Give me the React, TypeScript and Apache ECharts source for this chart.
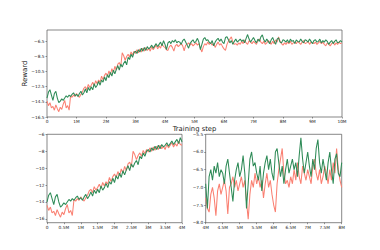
import React, { useEffect, useRef } from "react";
import * as echarts from "echarts";

// Training step spacing (in millions of steps) between recorded points
const stepM = 0.05;

// Reward curves, one value every 0.05M steps, 0 .. 10M
const greenReward = [
  -14.0, -13.2, -12.9, -13.6, -14.3, -13.4, -13.1, -14.0, -14.6, -14.4, -14.1,
  -14.3, -14.0, -13.7, -13.9, -13.6, -13.8, -13.5, -13.3, -13.7, -13.5,
  -13.8, -13.4, -13.1, -13.6, -13.3, -12.8, -13.3, -12.6, -13.0, -12.5,
  -12.9, -12.1, -12.6, -12.3, -11.8, -12.3, -11.6, -11.9, -11.2, -11.7,
  -10.9, -11.3, -10.6, -11.1, -10.3, -10.8, -10.2, -9.7, -10.3, -9.5,
  -9.9, -9.4, -9.1, -9.6, -8.6, -8.9, -8.2, -8.6, -8.0, -7.8,
  -8.1, -7.6, -7.9, -7.4, -7.8, -7.3, -7.7, -7.2, -7.5, -7.3,
  -7.0, -7.4, -7.1, -6.8, -7.2, -6.9, -6.6, -7.1, -6.4, -6.9,
  -7.6, -6.7, -6.5, -6.8, -6.4, -6.6, -6.3, -6.7, -6.5, -6.6,
  -6.9, -6.4, -6.2, -6.6, -7.0, -7.4, -6.8, -6.5, -6.3, -6.7,
  -6.5, -6.1, -6.6, -7.6, -6.9, -6.2, -6.0, -6.4, -6.3, -6.6,
  -6.8, -6.4, -7.1, -6.6, -6.3, -6.1, -6.5, -6.2, -6.6, -6.8,
  -6.0, -5.9, -6.3, -6.7, -6.4, -6.9, -6.5, -6.2, -6.6, -6.4,
  -6.2, -6.5, -6.3, -6.7, -6.1, -5.6, -6.2, -6.6, -6.3, -6.0,
  -6.4, -6.7, -6.2, -6.5, -5.9, -5.65, -6.3, -6.6, -6.2, -6.5,
  -6.8, -6.3, -6.0, -6.5, -6.9, -6.2, -6.05, -6.6, -6.7, -6.3,
  -6.4, -6.6, -6.3, -6.7, -6.2, -6.5, -6.4, -6.8, -6.3, -6.5,
  -6.6, -6.2, -6.5, -6.7, -6.3, -6.4, -6.6, -6.2, -6.5, -6.8,
  -6.4, -6.3, -6.6, -6.5, -6.2, -6.7, -6.4, -6.6, -6.3, -6.5,
  -6.9, -6.6, -6.4, -6.8, -6.5, -6.3, -6.7, -6.6, -6.4, -6.6,
];

const redReward = [
  -14.4, -15.0, -14.6, -15.3, -15.1, -15.6, -14.9, -15.4, -15.8, -15.2, -15.5,
  -14.8, -14.3, -15.3, -15.0, -15.6, -13.7, -13.9, -13.6, -13.8, -13.4,
  -13.7, -13.9, -13.5, -13.2, -12.7, -12.5, -12.9, -12.2, -12.6, -12.3,
  -11.9, -12.4, -11.7, -12.1, -11.6, -11.9, -11.1, -11.6, -11.0, -10.7,
  -11.1, -10.4, -10.9, -10.1, -10.6, -9.8, -10.3, -9.5, -9.3, -9.8,
  -8.0, -8.4, -9.0, -8.5, -8.2, -8.6, -7.9, -8.3, -7.8, -8.1,
  -7.6, -8.0, -7.5, -7.9, -7.4, -7.8, -7.3, -7.7, -7.4, -7.8,
  -7.2, -7.6, -7.3, -7.0, -7.5, -7.1, -7.4, -6.8, -7.2, -7.3,
  -7.6, -7.7, -7.2, -7.0, -7.3, -7.8, -7.1, -6.9, -7.2, -7.0,
  -6.8, -7.1, -7.75, -7.0, -6.9, -6.7, -7.0, -6.8, -7.1, -6.9,
  -6.7, -7.0, -6.8, -7.4, -7.9, -7.2, -6.8, -7.0, -6.6, -6.9,
  -6.7, -7.0, -6.8, -7.3, -6.9, -6.6, -7.0, -6.8, -7.2, -7.5,
  -7.7, -6.9, -6.5, -6.2, -5.9, -6.6, -6.9, -6.8, -7.0, -6.7,
  -6.9, -6.5, -6.8, -6.3, -6.7, -6.9, -6.4, -6.6, -6.8, -6.5,
  -6.7, -6.9, -6.4, -6.2, -6.6, -6.8, -6.5, -6.9, -6.7, -6.4,
  -6.6, -6.9, -6.5, -6.8, -6.3, -6.6, -5.9, -6.5, -6.8, -7.0,
  -6.7, -6.9, -6.6, -6.8, -6.5, -6.9, -6.7, -6.6, -6.8, -6.5,
  -6.7, -6.9, -6.6, -6.4, -6.8, -6.7, -6.5, -6.9, -6.6, -6.7,
  -6.8, -6.6, -6.9, -6.7, -6.5, -6.8, -6.6, -6.9, -7.1, -6.7,
  -6.9, -7.1, -6.8, -6.6, -7.0, -6.7, -6.9, -6.6, -6.8, -6.7,
];

// Tick values
const topXTicks = [0, 1, 2, 3, 4, 5, 6, 7, 8, 9, 10];
const topYTicks = [-16.5, -14.5, -12.5, -10.5, -8.5, -6.5];
const leftXTicks = [0, 0.5, 1, 1.5, 2, 2.5, 3, 3.5, 4];
const leftYTicks = [-16, -14, -12, -10, -8, -6];
const rightXTicks = [4, 4.5, 5, 5.5, 6, 6.5, 7, 7.5, 8];
const rightYTicks = [-8.0, -7.5, -7.0, -6.5, -6.0, -5.5];

const GREEN = "#2e8b57";
const RED = "#fa8072";
const FONT = "DejaVu Sans";
const MINUS = "\u2212";

const fmtX = (v: number) => (v === 0 ? "0" : `${+v.toFixed(2)}M`);
const fmtY = (digits: number) => (v: number) => {
  const s = Math.abs(v).toFixed(digits);
  return v < 0 ? MINUS + s : s;
};

function xAxis(gridIndex: number, min: number, max: number, ticks: number[], extra: any = {}) {
  return {
    type: "value",
    gridIndex,
    min,
    max,
    axisLine: { show: false },
    axisTick: { show: true, length: 1.5, customValues: ticks, lineStyle: { color: "#333", width: 0.5 } },
    axisLabel: { customValues: ticks, formatter: fmtX, fontSize: 4.3, fontFamily: FONT, color: "#222", margin: 2.3 },
    splitLine: { show: false },
    ...extra,
  };
}

function yAxis(gridIndex: number, min: number, max: number, ticks: number[], digits: number, extra: any = {}) {
  return {
    type: "value",
    gridIndex,
    min,
    max,
    axisLine: { show: false },
    axisTick: { show: true, length: 1.5, customValues: ticks, lineStyle: { color: "#333", width: 0.5 } },
    axisLabel: { customValues: ticks, formatter: fmtY(digits), fontSize: 4.3, fontFamily: FONT, color: "#222", margin: 2.5 },
    splitLine: { show: false },
    ...extra,
  };
}

function lineSeries(name: string, vals: number[], color: string, idx: number, lo: number, hi: number) {
  const data = vals
    .map((v, i) => [+(i * stepM).toFixed(2), v])
    .filter((p) => p[0] >= lo - 1e-9 && p[0] <= hi + 1e-9);
  return {
    name,
    type: "line",
    xAxisIndex: idx,
    yAxisIndex: idx,
    data,
    symbol: "none",
    lineStyle: { color, width: 1.05 },
    z: color === GREEN ? 3 : 2,
  };
}

export default function App() {
  const ref = useRef<HTMLDivElement>(null);
  useEffect(() => {
    if (!ref.current) return;
    const chart = echarts.init(ref.current, undefined, { renderer: "svg" });
    const gridStyle = { show: true, borderColor: "#555", borderWidth: 0.7, backgroundColor: "#fff" };
    chart.setOption({
      animation: false,
      backgroundColor: "#fff",
      grid: [
        { left: 47, top: 30, width: 295, height: 87, ...gridStyle },
        { left: 47, top: 134.3, width: 135, height: 88.4, ...gridStyle },
        { left: 205.7, top: 134.3, width: 136, height: 88.4, ...gridStyle },
      ],
      xAxis: [
        xAxis(0, 0, 10, topXTicks, {
          name: "Training step",
          nameLocation: "middle",
          nameGap: 8,
          nameMoveOverlap: false,
          nameTextStyle: { fontSize: 6.8, fontFamily: FONT, color: "#222", verticalAlign: "top", lineHeight: 7 },
        }),
        xAxis(1, 0, 4, leftXTicks),
        xAxis(2, 4, 8, rightXTicks),
      ],
      yAxis: [
        yAxis(0, -16.5, -5.0, topYTicks, 1, {
          name: "Reward",
          nameLocation: "middle",
          nameGap: 18.5,
          nameMoveOverlap: false,
          nameTextStyle: { fontSize: 7, fontFamily: FONT, color: "#222" },
        }),
        yAxis(1, -16.45, -6, leftYTicks, 0),
        yAxis(2, -8, -5.5, rightYTicks, 1),
      ],
      series: [
        lineSeries("red", redReward, RED, 0, 0, 10),
        lineSeries("green", greenReward, GREEN, 0, 0, 10),
        lineSeries("red", redReward, RED, 1, 0, 4),
        lineSeries("green", greenReward, GREEN, 1, 0, 4),
        lineSeries("red", redReward, RED, 2, 4, 8),
        lineSeries("green", greenReward, GREEN, 2, 4, 8),
      ],
    });
    return () => chart.dispose();
  }, []);
  return (
    <div
      ref={ref}
      style={{ position: "absolute", left: 0, top: 0, width: 380, height: 250, background: "#fff" }}
    />
  );
}
